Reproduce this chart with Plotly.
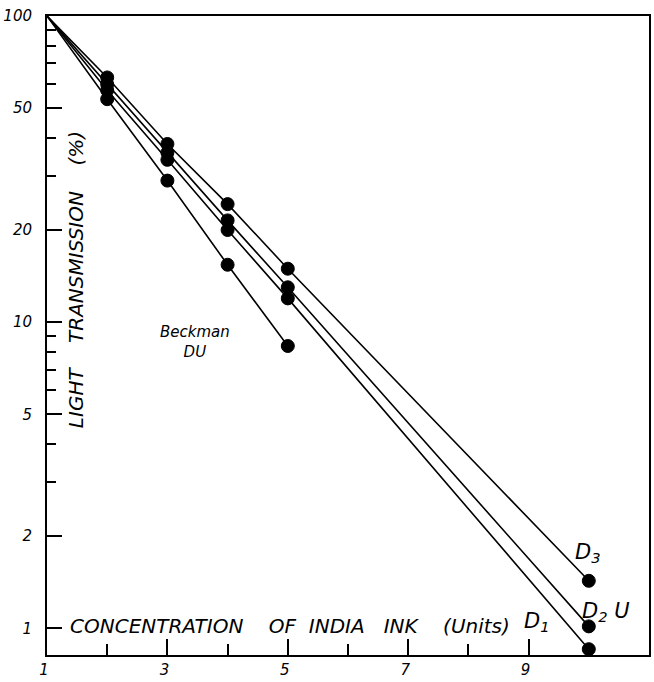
import math
import plotly.graph_objects as go

# Concentration of India ink (units) and light transmission (%)
concentration = [1, 2, 3, 4, 5, 10]
beckman_conc = [1, 2, 3, 4, 5]
d1 = [100, 57.2, 33.9, 20.0, 11.96, 0.855]
d2 = [100, 59.8, 35.8, 21.5, 13.0, 1.015]
d3 = [100, 63.0, 38.2, 24.3, 14.95, 1.43]
beckman_du = [100, 53.5, 29.0, 15.4, 8.36]

x_major = [1, 3, 5, 7, 9, 11]
x_minor = [2, 4, 6, 8, 10]
y_major = [1, 2, 5, 10, 20, 50, 100]
y_minor = [3, 4, 6, 7, 8, 9, 30, 40, 60, 70, 80, 90]

FONT = "DejaVu Sans"
INK = "black"

fig = go.Figure()


def add_series(xs, ys, name):
    # no marker on the common origin point (1, 100)
    sizes = [0] + [13] * (len(xs) - 1)
    fig.add_trace(go.Scatter(
        x=xs, y=ys, name=name, mode="lines+markers", opacity=1,
        line=dict(color=INK, width=1.6),
        marker=dict(color=INK, size=sizes, opacity=1,
                    line=dict(color=INK, width=1)),
        cliponaxis=True, showlegend=False,
    ))


add_series(concentration, d1, "D1")
add_series(concentration, d2, "D2")
add_series(concentration, d3, "D3")
add_series(beckman_conc, beckman_du, "Beckman DU")

tick_font = dict(family=FONT, size=15, color=INK, style="italic")

fig.update_layout(
    width=654, height=682,
    margin=dict(l=46, r=3, t=16, b=21),
    paper_bgcolor="white", plot_bgcolor="white",
    font=dict(family=FONT, color=INK),
    xaxis=dict(
        range=[1, 11], showgrid=False, zeroline=False,
        showline=True, linecolor=INK, linewidth=2, mirror=True,
        tickmode="array", tickvals=x_major, ticktext=[str(v) for v in x_major],
        ticks="inside", ticklen=16, tickwidth=1.5, tickcolor=INK,
        tickfont=tick_font, ticklabelshift=-3,
        minor=dict(tickmode="array", tickvals=x_minor, ticks="inside",
                   ticklen=11, tickwidth=1.5, tickcolor=INK, showgrid=False),
    ),
    yaxis=dict(
        type="log", range=[-0.087, 2.0], showgrid=False, zeroline=False,
        showline=True, linecolor=INK, linewidth=2, mirror=True,
        tickmode="array", tickvals=y_major, ticktext=[str(v) for v in y_major],
        ticks="inside", ticklen=15, tickwidth=1.5, tickcolor=INK,
        tickfont=tick_font, ticklabelstandoff=10,
        minor=dict(tickmode="array", tickvals=y_minor, ticks="inside",
                   ticklen=9, tickwidth=1.5, tickcolor=INK, showgrid=False),
    ),
    # short ticks along the top and right edges of the frame
    xaxis2=dict(
        overlaying="x", side="top", anchor="y", range=[1, 11],
        showgrid=False, zeroline=False, showline=False,
        tickmode="linear", tick0=1, dtick=1, ticks="inside",
        ticklen=8, tickwidth=1.5, tickcolor=INK, showticklabels=False,
    ),
    yaxis2=dict(
        overlaying="y", side="right", anchor="x", type="log",
        range=[-0.087, 2.0], showgrid=False, zeroline=False, showline=False,
        tickmode="array", tickvals=y_major, ticks="inside",
        ticklen=10, tickwidth=1.5, tickcolor=INK, showticklabels=False,
    ),
)

label_font = dict(family=FONT, size=20, color=INK, style="italic")
sp = "\u00a0"

annotations = [
    dict(text=f"CONCENTRATION{sp*4}OF{sp*2}INDIA{sp*3}INK{sp*4}(Units)",
         xref="paper", yref="paper", x=0.403, y=0.045,
         xanchor="center", yanchor="middle", showarrow=False, font=label_font),
    dict(text=f"LIGHT{sp*4}TRANSMISSION{sp*4}(%)",
         xref="paper", yref="paper", x=0.048, y=0.588, textangle=-90,
         xanchor="center", yanchor="middle", showarrow=False, font=label_font),
    dict(text="Beckman<br>DU", xref="x", yref="y", x=3.46, y=math.log10(8.6),
         xanchor="center", yanchor="middle", showarrow=False,
         font=dict(family=FONT, size=15, color=INK, style="italic")),
    dict(text="D<sub>3</sub>", xref="x", yref="y", x=9.98, y=0.245,
         xanchor="center", yanchor="middle", showarrow=False,
         font=dict(family=FONT, size=21, color=INK, style="italic")),
    dict(text="D<sub>2</sub> U", xref="x", yref="y", x=10.29, y=0.055,
         xanchor="center", yanchor="middle", showarrow=False,
         font=dict(family=FONT, size=21, color=INK, style="italic")),
    dict(text="D<sub>1</sub>", xref="x", yref="y", x=9.14, y=0.022,
         xanchor="center", yanchor="middle", showarrow=False,
         font=dict(family=FONT, size=21, color=INK, style="italic")),
]
fig.update_layout(annotations=annotations)

fig.write_html("out.html")
